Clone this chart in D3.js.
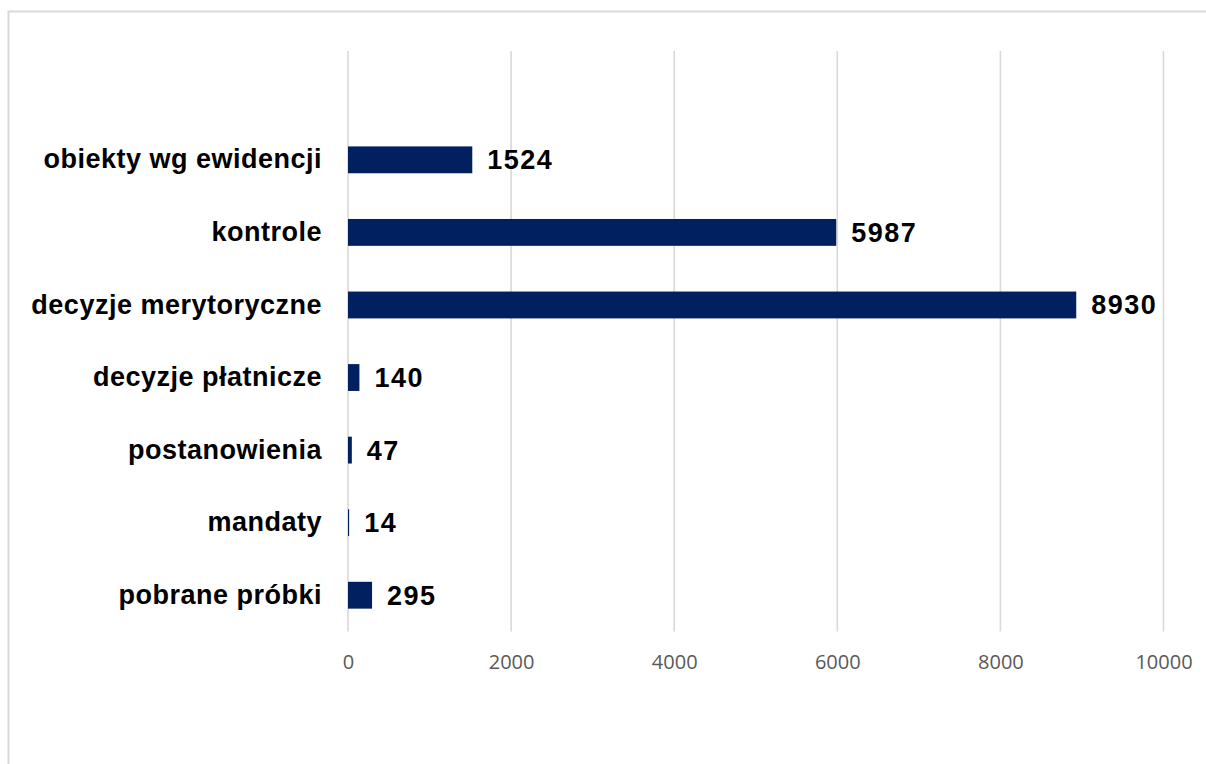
<!DOCTYPE html>
<html>
<head>
<meta charset="utf-8">
<script src="https://cdn.jsdelivr.net/npm/d3@7"></script>
<style>
  html, body { margin: 0; padding: 0; background: #fff; }
  svg { display: block; }
</style>
</head>
<body>
<svg id="chart" width="1206" height="764"></svg>
<script>
const categories = ["obiekty wg ewidencji", "kontrole", "decyzje merytoryczne", "decyzje płatnicze", "postanowienia", "mandaty", "pobrane próbki"];
const values = [1524, 5987, 8930, 140, 47, 14, 295];
const tickValues = [0, 2000, 4000, 6000, 8000, 10000];

const svg = d3.select("#chart");
const W = 1206, H = 764;

// chart frame (extends past right and bottom edges)
svg.append("rect")
  .attr("x", 8.5).attr("y", 11.5)
  .attr("width", W + 20).attr("height", H + 20)
  .attr("fill", "#fff").attr("stroke", "#d9d9d9").attr("stroke-width", 2);

const plot = { left: 348, right: 1163.5, top: 51, bottom: 631.5 };
const x = d3.scaleLinear().domain([0, 10000]).range([plot.left, plot.right]);

// one empty band at the top (as in the source chart)
const step = (plot.bottom - plot.top) / (categories.length + 1);
const y = d3.scaleBand()
  .domain(categories)
  .range([plot.top + step, plot.bottom])
  .paddingInner(0.63).paddingOuter(0.315);

// gridlines
svg.append("g")
  .selectAll("line")
  .data(tickValues)
  .join("line")
  .attr("x1", d => x(d)).attr("x2", d => x(d))
  .attr("y1", plot.top).attr("y2", plot.bottom)
  .attr("stroke", "#d9d9d9").attr("stroke-width", 1.6);

// x axis labels
const xAxis = d3.axisBottom(x).tickValues(tickValues).tickSize(0).tickPadding(0).tickFormat(d3.format("d"));
const gx = svg.append("g").attr("transform", `translate(0,${plot.bottom + 23})`).call(xAxis);
gx.select(".domain").remove();
gx.selectAll("text")
  .attr("font-family", "'Open Sans', sans-serif")
  .attr("font-size", 20)
  .attr("fill", "#595959");

// bars
svg.append("g")
  .selectAll("rect")
  .data(categories)
  .join("rect")
  .attr("x", x(0))
  .attr("y", d => y(d))
  .attr("width", (d, i) => x(values[i]) - x(0))
  .attr("height", y.bandwidth())
  .attr("fill", "#002060");

// category labels
const gy = svg.append("g").attr("transform", `translate(${plot.left - 26},0)`)
  .call(d3.axisLeft(y).tickSize(0).tickPadding(0));
gy.select(".domain").remove();
gy.selectAll("text")
  .attr("font-family", "'Liberation Sans', Arial, sans-serif")
  .attr("font-weight", "bold")
  .attr("font-size", 27)
  .attr("letter-spacing", 0.5)
  .attr("fill", "#000");

// value labels
svg.append("g")
  .selectAll("text")
  .data(categories)
  .join("text")
  .attr("x", (d, i) => x(values[i]) + 15)
  .attr("y", d => y(d) + y.bandwidth() / 2)
  .attr("dy", "0.35em")
  .attr("font-family", "'Liberation Sans', Arial, sans-serif")
  .attr("font-weight", "bold")
  .attr("font-size", 27)
  .attr("letter-spacing", 1.5)
  .attr("fill", "#000")
  .text((d, i) => values[i]);
</script>
</body>
</html>
